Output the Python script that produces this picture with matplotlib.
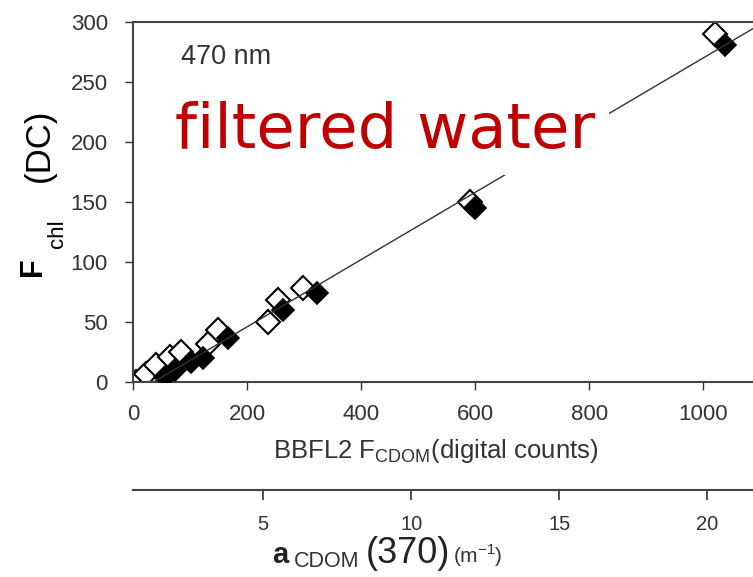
import matplotlib.pyplot as plt
import numpy as np

plt.rcParams['font.family'] = ['Liberation Sans', 'DejaVu Sans']

# open diamonds
open_x = [5, 23, 40, 65, 84, 132, 149, 237, 255, 298, 591, 1021]
open_y = [0, 7, 14, 21, 25, 32, 43, 50, 68, 78, 150, 290]
# filled diamonds
filled_x = [56, 74, 102, 123, 167, 263, 322, 600, 1039]
filled_y = [4, 10, 17, 20, 37, 60, 74, 145, 281]
# regression line
line_x = [36, 1100]
line_y = [0, 298]

x_ticks = [0, 200, 400, 600, 800, 1000]
y_ticks = [0, 50, 100, 150, 200, 250, 300]
a_ticks = [5, 10, 15, 20]

W, H = 753, 577
fig = plt.figure(figsize=(W / 100, H / 100), dpi=100)

def fx(px):
    return px / W

def fy(py):
    return 1 - py / H

ax = fig.add_axes([133 / W, (H - 382) / H, 687 / W, 360 / H])
ax.plot(filled_x, filled_y, 'D', ms=11, mfc='black', mec='black', mew=1.2, zorder=3)
ax.plot(open_x, open_y, 'D', ms=12, mfc='white', mec='black', mew=1.5, zorder=2)
ax.plot(line_x, line_y, color='#333333', lw=1, zorder=4)

ax.set_xlim(0, 1205)
ax.set_ylim(0, 300)
ax.set_xticks(x_ticks)
ax.set_yticks(y_ticks)
ax.tick_params(direction='out', length=6, width=1, labelsize=16, colors='#333333')
ax.tick_params(axis='x', pad=10)
ax.tick_params(axis='y', pad=12)
for s in ax.spines.values():
    s.set_color('#444444')
    s.set_linewidth(1.5)

ax.text(84, 265, '470 nm', fontsize=19.5, color='#333333')
ax.text(74, 195, 'filtered water', fontsize=45, color='#c00000', family='DejaVu Sans',
        bbox=dict(facecolor='white', edgecolor='none', boxstyle='square,pad=0.22'),
        zorder=5)

# x label of the main axis
fig.text(fx(273), fy(458), r'BBFL2 F$_{\mathregular{CDOM}}$(digital counts)',
         fontsize=18.5, color='#333333', ha='left', va='baseline')

# y label
fig.text(fx(41), fy(276), 'F', fontsize=22, fontweight='bold', rotation=90,
         rotation_mode='anchor', ha='left', va='baseline')
fig.text(fx(63), fy(248), 'chl', fontsize=16, rotation=90,
         rotation_mode='anchor', ha='left', va='baseline')
fig.text(fx(49), fy(182), '(DC)', fontsize=25, rotation=90,
         rotation_mode='anchor', ha='left', va='baseline')

# second x axis (a_CDOM)
ax2 = fig.add_axes([133 / W, (H - 490) / H, 687 / W, 0.0001])
ax2.set_xlim(0.6, 0.6 + 687 / 29.6)
ax2.set_xticks(a_ticks)
ax2.set_yticks([])
for k in ['top', 'left', 'right']:
    ax2.spines[k].set_visible(False)
ax2.spines['bottom'].set_color('#444444')
ax2.spines['bottom'].set_linewidth(1.5)
ax2.tick_params(direction='out', length=7, width=1.2, labelsize=14.5, colors='#333333', pad=11)

fig.text(fx(272), fy(563), 'a', fontsize=21, fontweight='bold', color='#222222',
         ha='left', va='baseline')
fig.text(fx(294), fy(567), 'CDOM', fontsize=15.5, color='#333333', ha='left', va='baseline')
fig.text(fx(366), fy(563), '(370)', fontsize=26, color='#222222', ha='left', va='baseline')
fig.text(fx(453), fy(563), r'(m$^{\mathregular{-1}}$)', fontsize=15, color='#333333',
         ha='left', va='baseline')

fig.savefig('out.png', dpi=100)
